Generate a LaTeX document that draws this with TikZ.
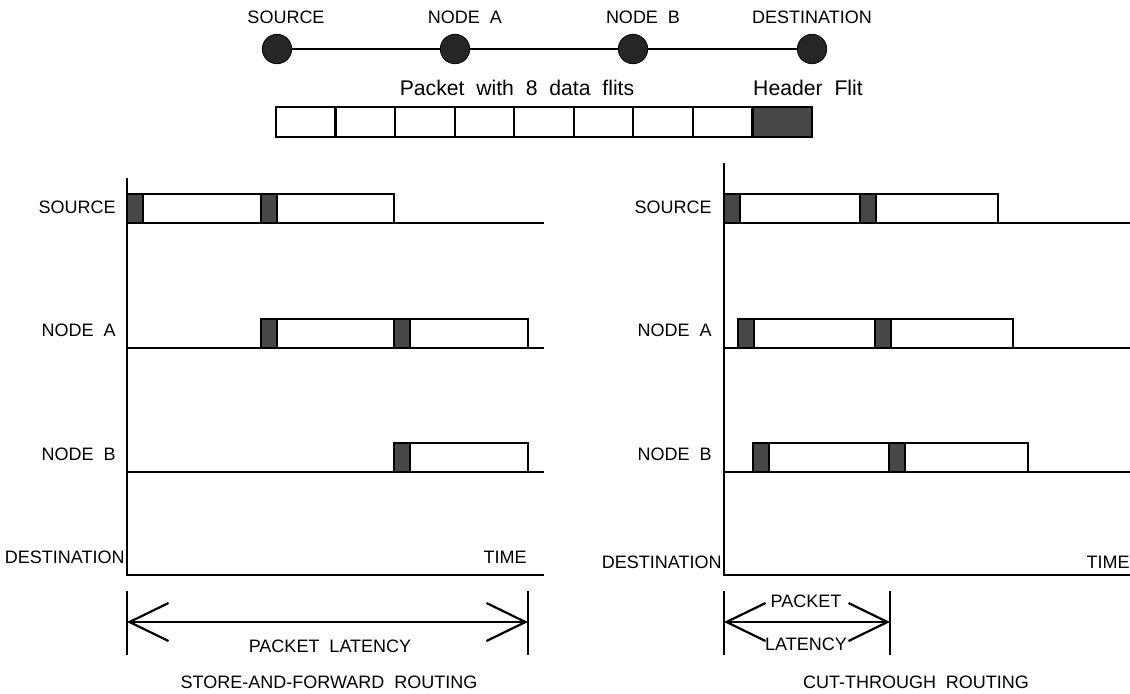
\documentclass[tikz,border=0pt]{standalone}
\usepackage{fontspec}
\setmainfont{Liberation Sans}
\usetikzlibrary{positioning,arrows.meta}
\tikzset{
  site/.style={circle,draw=black,fill=black!85,inner sep=0pt,minimum size=14.7pt},
  lbl/.style={inner sep=1pt,font=\fontsize{9pt}{10pt}\selectfont},
  note/.style={inner sep=1pt,font=\fontsize{10.6pt}{12pt}\selectfont},
  flit/.style={draw=black,fill=white,line width=1.1pt},
  hdr/.style={draw=black,fill=black!72,line width=1.1pt},
  wire/.style={line width=1.1pt},
  lat/.style={{Straight Barb[length=19.5pt,width=19pt]}-{Straight Barb[length=19.5pt,width=19pt]},line width=1.1pt},
}
\begin{document}
\begin{tikzpicture}[x=0.5pt,y=-0.5pt]
  \useasboundingbox (0,0) rectangle (1130,693);
  \node[site] (src) at (277,49) {};
  \node[site] (na) at (455,49) {};
  \node[site] (nb) at (633,49) {};
  \node[site] (dst) at (812,49) {};
  \draw[wire] (src) -- (na) -- (nb) -- (dst);
  \node[lbl,above=4pt of src,xshift=4.5pt] (tsrc) {SOURCE};
  \node[lbl,above=4pt of na,xshift=5pt] (tna) {NODE\ \ A};
  \node[lbl,above=4pt of nb,xshift=5pt] (tnb) {NODE\ \ B};
  \node[lbl,above=4pt of dst] (tdst) {DESTINATION};
  \foreach \i in {0,...,7}
    \draw[flit] ({276+59.55*\i},107) rectangle ++(59.55,30);
  \draw[hdr] (752.4,107) rectangle (812,137);
  \node[note] (tpkt) at (517,88) {Packet\ \ with\ \ 8\ \ data\ \ flits};
  \node[note] (thdr) at (808,88) {Header\ \ Flit};

  \draw[wire] (127,178) -- (127,575) -- (544,575);
  \draw[wire] (724,163) -- (724,575) -- (1130,575);
  \foreach \y in {223,348,472} {
    \draw[wire] (127,\y) -- (544,\y);
    \draw[wire] (724,\y) -- (1130,\y);
  }
  \foreach \a/\b/\y in {127/394/223,261/528/348,394/528/472,724/998/223,738/1013/348,753/1028/472}
    \draw[flit] (\a,\y) rectangle (\b,\y-29);
  \foreach \a/\y in {127/223,261/223,261/348,394/348,394/472,724/223,860/223,738/348,875/348,753/472,889/472}
    \draw[hdr] (\a,\y) rectangle ++(16,-29);

  \node[lbl,anchor=east] (lsrc) at (118,207) {SOURCE};
  \node[lbl,anchor=east] (lna) at (118,330) {NODE\ \ A};
  \node[lbl,anchor=east] (lnb) at (118,454) {NODE\ \ B};
  \node[lbl,anchor=east] (ldst) at (127,557) {DESTINATION};
  \node[lbl] (ltime) at (505,557) {TIME};
  \node[lbl,anchor=east] (rsrc) at (714,207) {SOURCE};
  \node[lbl,anchor=east] (rna) at (714,330) {NODE\ \ A};
  \node[lbl,anchor=east] (rnb) at (714,454) {NODE\ \ B};
  \node[lbl,anchor=east] (rdst) at (724,562) {DESTINATION};
  \node[lbl] (rtime) at (1108,562) {TIME};

  \coordinate (la) at (127,622);
  \coordinate (lb) at (528,622);
  \coordinate (ra) at (724,622);
  \coordinate (rb) at (890,622);
  \draw[wire] (127,591) -- (127,655) (528,591) -- (528,655);
  \draw[wire] (724,591) -- (724,655) (890,591) -- (890,655);
  \draw[lat] (la) -- (lb);
  \draw[lat] (ra) -- (rb);
  \node[lbl] (llat) at (330,646) {PACKET\ \ LATENCY};
  \node[lbl] (rlat1) at (806,601) {PACKET};
  \node[lbl] (rlat2) at (806,644) {LATENCY};
  \node[lbl] (lcap) at (329,682) {STORE-AND-FORWARD\ \ ROUTING};
  \node[lbl] (rcap) at (916,682) {CUT-THROUGH\ \ ROUTING};
\end{tikzpicture}
\end{document}
